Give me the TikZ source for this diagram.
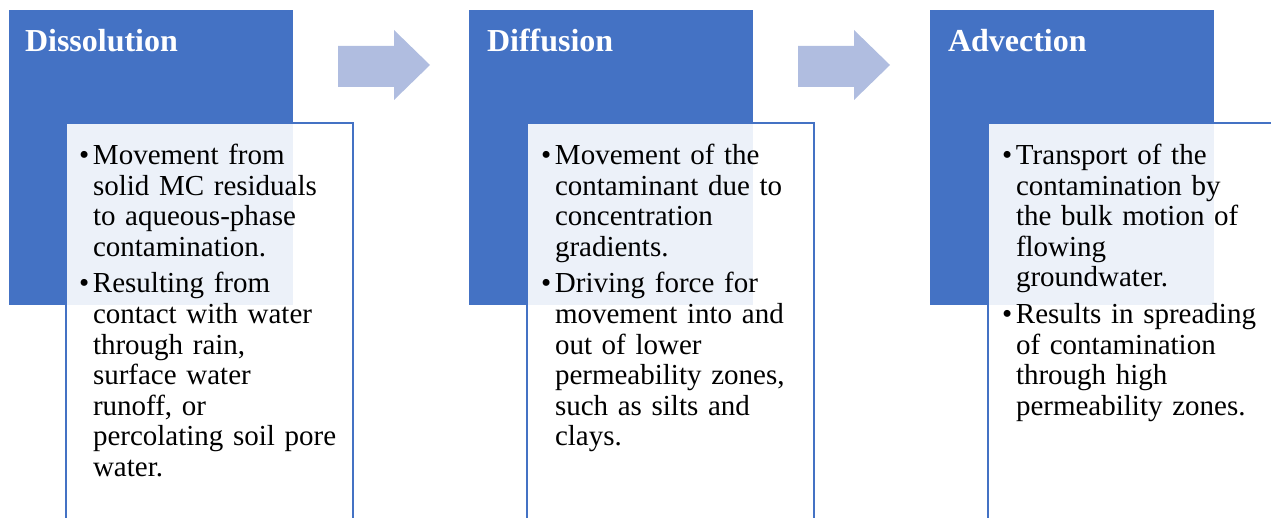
\documentclass[tikz,border=0pt]{standalone}
\usepackage{fontspec}
\setmainfont{Liberation Serif}
\usepackage{tikz}
\usetikzlibrary{positioning}

\definecolor{headblue}{RGB}{68,114,196}
\definecolor{arrowblue}{RGB}{176,189,224}

% one bullet with hanging indent
\newcommand{\bpoint}[1]{\par\hangindent=14pt\hangafter=1\noindent\makebox[14pt][l]{\textbullet}#1}
% block arrow, left end of shaft at (#1,#2)
\newcommand{\blockarrow}[2]{\fill[arrowblue] (#1,#2+16) -- ++(56,0) -- ++(0,-16) -- ++(36,35) -- ++(-36,35) -- ++(0,-13) -- ++(-56,0) -- cycle;}

\begin{document}
\begin{tikzpicture}[x=1pt,y=-1pt,inner sep=0pt,outer sep=0pt]
\tikzstyle{head} = [rectangle,fill=headblue,minimum width=284pt,minimum height=295pt,anchor=north west]
\tikzstyle{card} = [rectangle,fill=white,fill opacity=0.9,draw=headblue,line width=1.3pt,minimum width=287pt,minimum height=430pt,anchor=north west]
\tikzstyle{htext} = [text=white,font=\fontsize{32}{36}\selectfont\bfseries,anchor=base west]
\tikzstyle{btext} = [text width=300pt,anchor=north west,font=\fontsize{29}{30.6}\selectfont]

\useasboundingbox (0,0) rectangle (1271,518);
\clip (0,0) rectangle (1271,518);

    \node[head] (h1) at (9,10) {};
    \node[head] (h2) at (469,10) {};
    \node[head] (h3) at (930,10) {};

    \node[htext] (t1) at (25,52) {Dissolution};
    \node[htext] (t2) at (487,52) {Diffusion};
    \node[htext] (t3) at (948,52) {Advection};

    \blockarrow{338}{30}
    \blockarrow{798}{30}

    \node[card] (c1) at (66,123) {};
    \node[card] (c2) at (527,123) {};
    \node[card] (c3) at (988,123) {};

    \tikzset{every node/.append style={btext}}
    \node (b1) at ([xshift=13pt,yshift=-5pt]c1.north west) {\parskip=6pt
      \bpoint{Movement from\newline solid MC residuals\newline to aqueous-phase\newline contamination.}
      \bpoint{Resulting from\newline contact with water\newline through rain,\newline surface water\newline runoff, or\newline percolating soil pore\newline water.}\par};
    \node (b2) at ([xshift=14pt,yshift=-5pt]c2.north west) {\parskip=6pt
      \bpoint{Movement of the\newline contaminant due to\newline concentration\newline gradients.}
      \bpoint{Driving force for\newline movement into and\newline out of lower\newline permeability zones,\newline such as silts and\newline clays.}\par};
    \node (b3) at ([xshift=14pt,yshift=-5pt]c3.north west) {\parskip=6pt
      \bpoint{Transport of the\newline contamination by\newline the bulk motion of\newline flowing\newline groundwater.}
      \bpoint{Results in spreading\newline of contamination\newline through high\newline permeability zones.}\par};
\end{tikzpicture}
\end{document}
